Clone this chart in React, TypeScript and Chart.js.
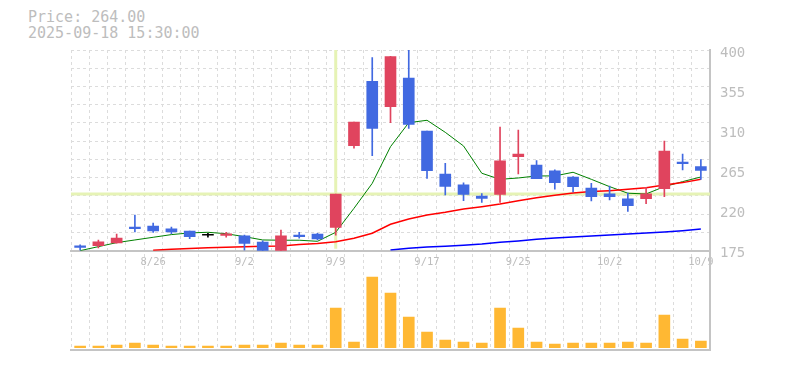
import React, { useEffect, useRef } from 'react';
import { Chart, registerables } from 'chart.js';

Chart.register(...registerables);

// ---- data ----
const dates = [
  '8/20', '8/21', '8/22', '8/25', '8/26', '8/27', '8/28', '8/29', '9/1', '9/2',
  '9/3', '9/4', '9/5', '9/8', '9/9', '9/10', '9/11', '9/12', '9/16', '9/17',
  '9/18', '9/19', '9/22', '9/24', '9/25', '9/26', '9/29', '9/30', '10/1', '10/2',
  '10/3', '10/6', '10/7', '10/8', '10/9',
];
const openP = [
  180.5, 180.6, 183.6, 201.5, 202.5, 199.5, 197, 192.3, 192, 191.5,
  184.5, 175, 192.5, 193.7, 201, 292.7, 365, 336.5, 368.5, 309,
  261, 248.7, 236.3, 238.2, 280.5, 271, 264.4, 257.6, 245.3, 238.6,
  233, 233.3, 244.6, 274.4, 269.2,
];
const highP = [
  181.5, 187, 193.5, 215, 206, 201.5, 197, 194.5, 195.5, 192.5,
  186, 198, 195.5, 194.5, 238.5, 319.3, 391.5, 393, 402, 309,
  273, 251, 239, 313.7, 310.3, 276, 265.5, 258, 250.5, 247.5,
  239.7, 246, 298, 283.4, 277,
];
const lowP = [
  175.5, 178, 183.5, 196, 195.5, 194, 188.5, 190, 190, 175.5,
  175, 175, 189, 187, 192.5, 290, 281.5, 318.5, 312, 256,
  237.5, 231, 229, 229, 261, 255.7, 244, 241, 230.7, 232,
  219, 227.7, 235.6, 265.5, 255,
];
const closeP = [
  178.5, 185, 189, 199.7, 197.2, 196, 190.7, 192.3, 194, 183,
  175, 191.5, 190.7, 188.2, 238.5, 319.3, 312, 392.5, 316.5, 264.7,
  247, 238, 233.5, 275.6, 283.4, 255.7, 251.3, 246.8, 235.6, 235.6,
  225.5, 238.6, 286.8, 272.5, 265,
];
const volume = [
  17, 17, 27, 47, 27, 17, 17, 17, 17, 27,
  27, 47, 27, 27, 397, 57, 707, 547, 307, 157,
  77, 57, 47, 397, 197, 57, 37, 47, 47, 47,
  57, 47, 327, 87, 67,
];
const ma5 = [
  175, 179.5, 184, 187, 190, 193, 194.9, 195.6, 194, 190.7,
  187, 186.7, 186.7, 185.5, 195.6, 222.5, 250.5, 291.6, 318.5, 321.2,
  307.7, 292.4, 261.8, 255, 256.5, 258.8, 258.8, 262.9, 255, 246.8,
  239.4, 238.6, 246.8, 252.4, 257.6,
];
const ma25 = [
  null, null, null, null, 175.5, 176.6, 177.3, 178.4, 178.8, 179.5,
  179.9, 180.2, 181.8, 182.9, 185, 188.9, 194.5, 204.6, 210.5, 215,
  218, 221.8, 224.3, 227.2, 231, 234.4, 237, 239.7, 241.2, 242.3,
  243.8, 245.6, 248.7, 251.3, 255,
];
const ma75 = [
  null, null, null, null, null, null, null, null, null, null,
  null, null, null, null, null, null, null, 175.7, 177.7, 179.2,
  180, 181.1, 182.5, 184.4, 185.9, 187.7, 189.2, 190.4, 191.5, 192.6,
  193.7, 194.8, 195.9, 197.4, 199.3,
];
const priceTicks = [175, 220, 265, 310, 355, 400];
const dateTicks = ['8/26', '9/2', '9/9', '9/17', '9/25', '10/2', '10/9'];
const crossIndex = 14;
const headerPrice = '264.00';
const headerTime = '2025-09-18 15:30:00';

const UP = '#E0445E';
const DOWN = '#4169E1';
const DOJI = '#000000';
const GRID = '#dcdcdc';
const AXIS = '#c4c4c4';
const TEXT = '#bdbdbd';
const MONO = "'DejaVu Sans Mono', monospace";

export default function App() {
  const ref = useRef<HTMLCanvasElement>(null);

  useEffect(() => {
    if (!ref.current) return;
    const colors = dates.map((_, i) =>
      closeP[i] > openP[i] ? UP : closeP[i] < openP[i] ? DOWN : DOJI
    );
    const gridVals = Array.from({ length: 12 }, (_, k) => 175 + (k * 225) / 11);
    const near = (a: number, b: number) => Math.abs(a - b) < 1e-6;
    const isGrid = (v: number) => gridVals.some((g) => near(g, v));
    const isLabel = (v: number) => priceTicks.some((t) => near(t, v));
    const allTicks = [...gridVals, ...priceTicks.filter((t) => !isGrid(t))].sort((a, b) => a - b);

    const crosshair = {
      id: 'crosshair',
      beforeDatasetsDraw(chart: any) {
        const { ctx } = chart;
        const xs = chart.scales.x;
        const ys = chart.scales.y;
        const px = xs.getPixelForValue(crossIndex);
        const py = ys.getPixelForValue(closeP[crossIndex]);
        ctx.save();
        ctx.strokeStyle = '#e6f3b5';
        ctx.lineWidth = 3;
        ctx.beginPath();
        ctx.moveTo(xs.left, py);
        ctx.lineTo(xs.right, py);
        ctx.moveTo(px, ys.top);
        ctx.lineTo(px, ys.bottom - 2);
        ctx.stroke();
        ctx.restore();
      },
    };

    const chart = new Chart(ref.current, {
      type: 'bar',
      data: {
        labels: dates,
        datasets: [
          {
            type: 'line', label: 'MA5', data: ma5, borderColor: '#008000', borderWidth: 1,
            pointRadius: 0, yAxisID: 'y', xAxisID: 'x', order: 5,
          },
          {
            type: 'line', label: 'MA25', data: ma25, borderColor: '#ff0000', borderWidth: 1.5,
            pointRadius: 0, yAxisID: 'y', xAxisID: 'x', order: 4,
          },
          {
            type: 'line', label: 'MA75', data: ma75, borderColor: '#0000ff', borderWidth: 1.5,
            pointRadius: 0, yAxisID: 'y', xAxisID: 'x', order: 3,
          },
          {
            type: 'bar', label: 'wick', data: dates.map((_, i) => [lowP[i], highP[i]]),
            backgroundColor: colors, barThickness: 1, grouped: false, yAxisID: 'y', xAxisID: 'x', order: 2,
          },
          {
            type: 'bar', label: 'body', data: dates.map((_, i) => [openP[i], closeP[i]]),
            backgroundColor: colors, barThickness: 11, minBarLength: 1, grouped: false,
            yAxisID: 'y', xAxisID: 'x', order: 1,
          },
          {
            type: 'bar', label: 'volume', data: volume, backgroundColor: '#FFB833',
            barThickness: 11, grouped: false, yAxisID: 'yv', xAxisID: 'x', order: 1,
          },
        ],
      } as any,
      options: {
        animation: false,
        responsive: true,
        maintainAspectRatio: false,
        layout: { padding: { left: 63, right: 0, top: 42, bottom: 12 } },
        plugins: { legend: { display: false }, tooltip: { enabled: false }, title: { display: false } },
        scales: {
          x: {
            type: 'category',
            position: 'bottom',
            offset: true,
            grid: { offset: true, color: GRID, drawTicks: false, lineWidth: 1 },
            border: { display: true, color: AXIS, width: 2, dash: [3, 3] },
            ticks: { display: false },
            afterFit: (s: any) => { s.height = 0; },
          },
          x2: {
            type: 'category',
            position: { y: 175 },
            offset: true,
            grid: { display: false, drawTicks: false },
            border: { display: true, color: AXIS, width: 2 },
            ticks: {
              autoSkip: false, maxRotation: 0, padding: 5, color: TEXT,
              font: { family: MONO, size: 10.5 },
              callback: (_v: any, i: number) => (dateTicks.includes(dates[i]) ? dates[i] : ''),
            },
            afterFit: (s: any) => { s.height = 0; },
          },
          y: {
            type: 'linear',
            position: 'right',
            stack: 'panels',
            stackWeight: 2.02,
            min: 175,
            max: 400,
            afterBuildTicks: (s: any) => { s.ticks = allTicks.map((v) => ({ value: v })); },
            grid: {
              color: (ctx: any) => (ctx.tick && isGrid(ctx.tick.value) ? GRID : 'rgba(0,0,0,0)'),
              drawTicks: false,
            },
            border: { display: true, color: AXIS, width: 2, dash: [3, 3] },
            ticks: {
              autoSkip: false, color: TEXT, padding: 10, labelOffset: 3,
              font: { family: MONO, size: 14 },
              callback: (v: any) => (isLabel(Number(v)) ? String(Math.round(Number(v))) : ''),
            },
            afterFit: (s: any) => { s.width = 67; },
          },
          yv: {
            type: 'linear',
            position: 'right',
            stack: 'panels',
            stackWeight: 1,
            min: -23,
            max: 970,
            grid: { display: false, drawTicks: false },
            border: { display: true, color: AXIS, width: 2 },
            ticks: { display: false },
            afterFit: (s: any) => { s.width = 67; },
          },
        },
      } as any,
      plugins: [crosshair],
    });
    return () => chart.destroy();
  }, []);

  return (
    <div style={{ position: 'relative', width: 769, height: 354 }}>
      <div
        style={{
          position: 'absolute', left: 20, top: 2, fontFamily: MONO, fontSize: 15,
          lineHeight: '15.6px', color: TEXT, whiteSpace: 'pre',
        }}
      >
        {`Price: ${headerPrice}\n${headerTime}`}
      </div>
      <div style={{ position: 'absolute', left: 0, top: 0, width: 769, height: 360.4 }}>
        <canvas ref={ref} />
      </div>
    </div>
  );
}
